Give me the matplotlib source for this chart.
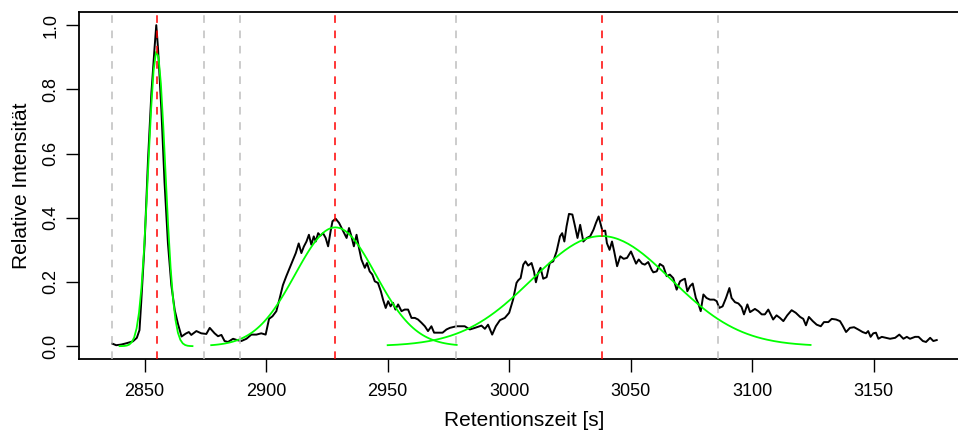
import numpy as np
import matplotlib
matplotlib.use("Agg")
import matplotlib.pyplot as plt

plt.rcParams["font.family"] = ["Liberation Sans", "DejaVu Sans"]

# measured chromatogram (retention time [s], relative intensity)
time_s = [
    2836.7, 2838.3, 2840.4, 2842.5, 2845.2, 2846.8, 2847.9, 2848.6, 2850.0, 2851.4,
    2852.8, 2854.1, 2854.8, 2855.5, 2856.9, 2858.2, 2859.6, 2861.0, 2862.4, 2863.7,
    2865.2, 2866.9, 2868.2, 2869.2, 2871.3, 2873.3, 2875.4, 2876.8, 2878.8, 2880.2,
    2881.6, 2882.9, 2884.3, 2886.4, 2888.0, 2889.8, 2891.9, 2893.9, 2896.0, 2898.0,
    2899.8, 2901.2, 2902.6, 2904.2, 2905.6, 2906.9, 2908.3, 2909.7, 2911.1, 2912.2,
    2913.4, 2914.5, 2915.5, 2916.6, 2917.6, 2918.6, 2919.6, 2920.4, 2921.4, 2922.3,
    2923.4, 2924.5, 2925.5, 2926.5, 2927.3, 2928.6, 2930.0, 2931.4, 2933.1, 2934.1,
    2935.1, 2936.1, 2937.2, 2938.2, 2939.2, 2940.6, 2941.5, 2942.6, 2943.7, 2944.7,
    2946.0, 2947.2, 2948.1, 2949.2, 2950.2, 2951.2, 2952.2, 2953.2, 2954.3, 2955.7,
    2957.0, 2958.4, 2959.8, 2961.2, 2962.5, 2963.9, 2965.3, 2966.6, 2968.0, 2969.1,
    2970.7, 2972.6, 2974.2, 2975.6, 2978.3, 2981.7, 2983.8, 2985.9, 2988.6, 2990.0,
    2991.3, 2993.0, 2994.5, 2996.2, 2998.2, 3000.0, 3001.6, 3003.0, 3003.7, 3004.7,
    3005.8, 3006.7, 3007.8, 3009.2, 3010.2, 3011.0, 3011.9, 3012.9, 3014.0, 3015.4,
    3016.7, 3018.1, 3019.5, 3020.9, 3021.8, 3022.7, 3023.6, 3024.6, 3026.0, 3027.1,
    3028.1, 3029.2, 3030.5, 3031.9, 3033.3, 3034.7, 3035.7, 3036.8, 3037.7, 3038.4,
    3039.5, 3040.2, 3041.3, 3042.3, 3043.2, 3044.4, 3045.7, 3047.1, 3048.5, 3050.1,
    3051.2, 3052.2, 3053.3, 3054.7, 3055.8, 3057.2, 3058.6, 3059.3, 3060.7, 3062.0,
    3063.4, 3064.8, 3066.1, 3067.5, 3068.9, 3070.3, 3071.4, 3072.3, 3073.3, 3074.4,
    3075.5, 3076.8, 3077.8, 3078.8, 3079.9, 3081.2, 3082.6, 3084.3, 3085.4, 3086.4,
    3087.8, 3089.2, 3090.6, 3091.5, 3092.9, 3094.3, 3095.6, 3096.6, 3098.0, 3099.1,
    3101.1, 3102.5, 3103.9, 3105.2, 3106.6, 3108.6, 3110.0, 3111.4, 3112.8, 3114.4,
    3116.2, 3117.9, 3119.7, 3121.0, 3122.1, 3123.3, 3124.9, 3126.5, 3128.2, 3129.5,
    3131.3, 3132.7, 3134.5, 3136.1, 3137.2, 3138.6, 3140.2, 3141.9, 3143.6, 3145.4,
    3146.8, 3147.7, 3148.7, 3149.8, 3150.9, 3151.9, 3153.3, 3155.0, 3156.7, 3158.8,
    3160.5, 3162.2, 3163.6, 3164.9, 3167.0, 3168.4, 3170.2, 3171.5, 3173.2, 3174.5,
    3175.9,
]
intensity = [
    0.008, 0.003, 0.005, 0.009, 0.015, 0.026, 0.050, 0.136, 0.320, 0.580,
    0.790, 0.930, 1.000, 0.930, 0.736, 0.510, 0.320, 0.190, 0.112, 0.070,
    0.030, 0.039, 0.044, 0.035, 0.047, 0.040, 0.038, 0.057, 0.040, 0.031,
    0.035, 0.016, 0.013, 0.023, 0.019, 0.016, 0.023, 0.036, 0.036, 0.040,
    0.036, 0.085, 0.093, 0.109, 0.150, 0.190, 0.218, 0.244, 0.270, 0.290,
    0.320, 0.290, 0.310, 0.326, 0.347, 0.316, 0.342, 0.326, 0.352, 0.344,
    0.352, 0.337, 0.311, 0.357, 0.389, 0.397, 0.384, 0.363, 0.337, 0.368,
    0.342, 0.311, 0.347, 0.306, 0.270, 0.244, 0.259, 0.233, 0.223, 0.202,
    0.197, 0.171, 0.145, 0.119, 0.140, 0.124, 0.135, 0.114, 0.130, 0.109,
    0.114, 0.114, 0.088, 0.088, 0.083, 0.073, 0.062, 0.047, 0.062, 0.042,
    0.042, 0.042, 0.052, 0.057, 0.062, 0.062, 0.052, 0.057, 0.064, 0.054,
    0.067, 0.036, 0.062, 0.081, 0.088, 0.104, 0.145, 0.197, 0.205, 0.212,
    0.254, 0.264, 0.251, 0.259, 0.233, 0.199, 0.228, 0.244, 0.210, 0.215,
    0.259, 0.264, 0.295, 0.342, 0.352, 0.326, 0.373, 0.412, 0.410, 0.373,
    0.337, 0.378, 0.326, 0.337, 0.342, 0.363, 0.384, 0.404, 0.378, 0.358,
    0.360, 0.321, 0.300, 0.326, 0.295, 0.249, 0.280, 0.272, 0.275, 0.295,
    0.275, 0.257, 0.270, 0.257, 0.254, 0.262, 0.238, 0.230, 0.233, 0.256,
    0.249, 0.218, 0.223, 0.212, 0.176, 0.202, 0.207, 0.210, 0.171, 0.187,
    0.195, 0.150, 0.133, 0.109, 0.161, 0.150, 0.145, 0.145, 0.140, 0.119,
    0.124, 0.150, 0.181, 0.150, 0.137, 0.133, 0.122, 0.099, 0.130, 0.106,
    0.116, 0.109, 0.099, 0.099, 0.114, 0.083, 0.096, 0.088, 0.078, 0.096,
    0.112, 0.104, 0.091, 0.085, 0.065, 0.091, 0.078, 0.067, 0.062, 0.075,
    0.075, 0.085, 0.083, 0.078, 0.064, 0.044, 0.057, 0.059, 0.052, 0.044,
    0.040, 0.047, 0.029, 0.040, 0.042, 0.023, 0.029, 0.026, 0.023, 0.026,
    0.036, 0.023, 0.029, 0.023, 0.029, 0.029, 0.016, 0.013, 0.026, 0.016,
    0.019,
]

# gaussian fits of the three peaks
fit_center = [2855.0, 2928.5, 3038.0]
fit_height = [0.92, 0.37, 0.343]
fit_sigma = [3.5, 16.5, 28.6]
fit_start = [2839.7, 2877.4, 2950.0]
fit_end = [2870.6, 2978.8, 3124.9]

# peak maxima (red) and integration limits (grey)
peak_pos = [2855.0, 2928.3, 3038.0]
limit_pos = [2836.7, 2874.3, 2889.4, 2978.0, 3086.0]

fig = plt.figure(figsize=(9.58, 4.33), dpi=100)
ax = fig.add_axes([79.3 / 958, 74 / 433, 890.4 / 958, 346.7 / 433])

ax.plot(time_s, intensity, color="black", lw=1.4, zorder=3)

for c, h, s, a, b in zip(fit_center, fit_height, fit_sigma, fit_start, fit_end):
    t = np.arange(a, b + 0.01, 1.0)
    ax.plot(t, h * np.exp(-(t - c) ** 2 / (2 * s ** 2)), color="#00ff00", lw=1.3, zorder=4)

for x in limit_pos:
    ax.axvline(x, color="#bebebe", lw=1.1, dashes=(5, 5), zorder=5)
for x in peak_pos:
    ax.axvline(x, color="red", lw=1.1, dashes=(5, 5), zorder=6)

span = max(time_s) - min(time_s)
ax.set_xlim(min(time_s) - 0.04 * span, max(time_s) + 0.04 * span)
ax.set_ylim(-0.04, 1.04)

ax.set_xticks([2850, 2900, 2950, 3000, 3050, 3100, 3150])
ax.set_yticks([0.0, 0.2, 0.4, 0.6, 0.8, 1.0])
ax.set_yticklabels(["0.0", "0.2", "0.4", "0.6", "0.8", "1.0"], rotation=90, va="center")
ax.tick_params(axis="both", direction="out", length=9.5, width=1.0, labelsize=13)
ax.tick_params(axis="x", pad=8)
ax.tick_params(axis="y", pad=5)
for sp in ax.spines.values():
    sp.set_linewidth(1.3)

ax.set_xlabel("Retentionszeit [s]", fontsize=15, labelpad=8)
ax.set_ylabel("Relative Intensität", fontsize=15, labelpad=8)

fig.savefig("out.png", dpi=100)
